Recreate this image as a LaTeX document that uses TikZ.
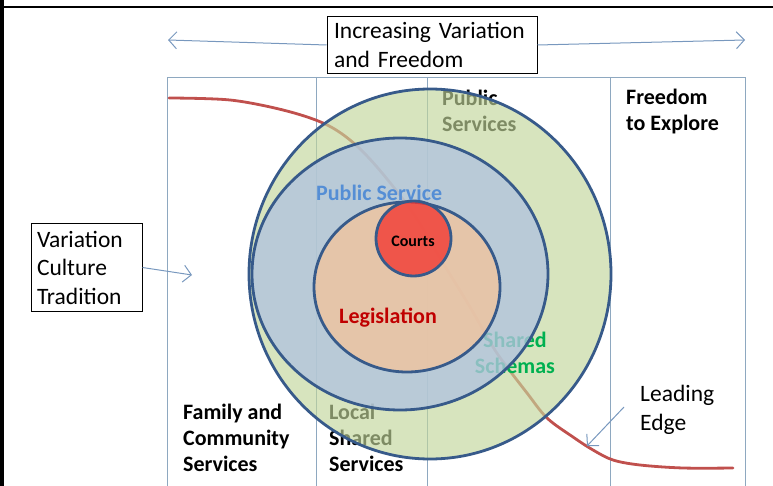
\documentclass[tikz,border=0pt]{standalone}
\usepackage{fontspec}
\setmainfont{Carlito}
\usetikzlibrary{arrows.meta}
\definecolor{ringline}{RGB}{55,90,138}
\definecolor{colline}{RGB}{142,168,192}
\definecolor{arrowblue}{RGB}{120,152,190}
\definecolor{edgered}{RGB}{192,80,77}
\definecolor{outergreen}{RGB}{194,214,155}
\definecolor{servblue}{RGB}{177,196,223}
\definecolor{legtan}{RGB}{243,196,157}
\definecolor{courtred}{RGB}{243,54,48}
\definecolor{pstext}{RGB}{85,142,213}
\definecolor{legtext}{RGB}{192,0,0}
\definecolor{schtext}{RGB}{0,176,80}
\begin{document}
\begin{tikzpicture}[x=1pt,y=-1pt,
    txt/.style={font=\fontsize{23.5}{28.5}\selectfont, align=left, inner sep=0pt},
    bold/.style={font=\fontsize{22}{26}\selectfont\bfseries, align=left, inner sep=0pt},
    ptr/.style={draw=arrowblue, line width=1pt, -{Straight Barb[length=8pt,width=17pt]}},
    ring/.style={draw=ringline, line width=2.8pt}]
  \useasboundingbox (0,0) rectangle (773,486);
  \draw[line width=4pt] (2,0) -- (2,486);
  \draw[line width=2pt] (0,7) -- (773,7);

  % columns
  \draw[colline, line width=0.9pt] (167,486) -- (167,77) -- (745,77) -- (745,486);
  \foreach \x in {316,427,610}
    \draw[colline, line width=0.9pt] (\x,77) -- (\x,486);

  % leading edge
  \draw[edgered, line width=2.8pt, line cap=round] plot[smooth, tension=0.55] coordinates {
    (169,98) (230,100) (283,110) (323,123) (350,140) (377,167) (413,213)
    (443,263) (470,307) (493,347) (507,367) (527,393) (547,418) (573,437)
    (593,450) (613,460) (640,465) (683,468) (733,468)};

  \node[bold, anchor=west] (pubs) at (442,111) {Public\\Services};
  \node[bold, anchor=west] (local) at (329,438) {Local\\Shared\\Services};

  \begin{scope}[fill opacity=0.65]
    \draw[ring, fill=outergreen] (430,274) ellipse [x radius=181, y radius=185];
  \end{scope}
  \node[bold, text=schtext, align=center] (schemas) at (515,353) {Shared\\Schemas};
  \begin{scope}[fill opacity=0.78]
    \draw[ring, fill=servblue] (400,274) ellipse [x radius=148, y radius=136];
    \draw[ring, fill=legtan] (407,287) ellipse [x radius=93, y radius=85];
    \draw[ring, fill=courtred] (413.5,238.5) circle [radius=37.5];
  \end{scope}

  \node[bold, text=pstext, anchor=west] (pubserv) at (316,193) {Public Service};
  \node[font=\fontsize{16}{18}\selectfont\bfseries] (courts) at (413,241) {Courts};
  \node[bold, text=legtext] (legis) at (388,318) {Legislation};

  \node[bold, anchor=west] (explore) at (626,112) {Freedom\\to Explore};
  \node[bold, anchor=west] (family) at (183,438) {Family and\\Community\\Services};
  \node[txt, anchor=west] (leading) at (640,410) {Leading\\Edge};

  \node[txt, draw, line width=1pt, text width=196pt, inner xsep=7pt, inner ysep=6pt] (title) at (432,45)
    {Increasing Variation\\and Freedom};
  \node[txt, draw, line width=1pt, text width=99pt, inner xsep=6pt, inner ysep=7.5pt] (varbox) at (86.5,267.5)
    {Variation\\Culture\\Tradition};

  \coordinate (lefttip) at (168,40);
  \coordinate (righttip) at (745,40);
  \coordinate (cultip) at (192,275);
  \coordinate (edgetip) at (587,446);

  \draw[ptr] (title.west) -- (lefttip);
  \draw[ptr] (title.east) -- (righttip);
  \draw[ptr] (varbox.east) -- (cultip);
  \draw[ptr] ([shift={(-16,-3)}]leading.west) -- (edgetip);
\end{tikzpicture}
\end{document}
